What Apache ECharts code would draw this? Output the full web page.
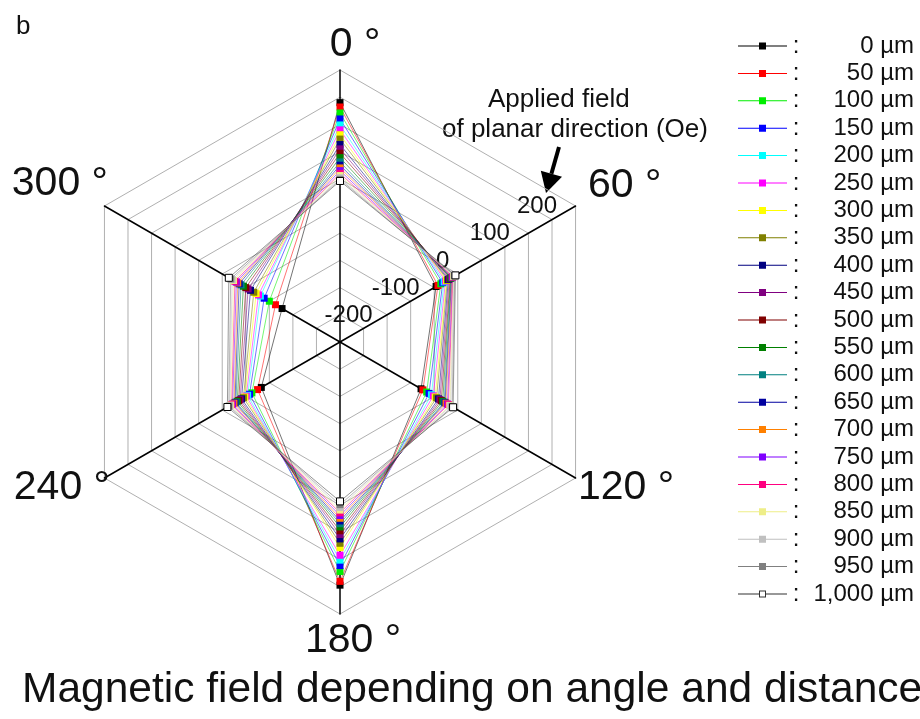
<!DOCTYPE html>
<html><head><meta charset="utf-8">
<script src="https://cdn.jsdelivr.net/npm/echarts@6/dist/echarts.min.js"></script>
<style>html,body{margin:0;padding:0;background:#fff}#c{width:920px;height:719px}</style>
</head><body><div id="c"></div>
<script>
// ---- data ----
const distances = ['0 µm','50 µm','100 µm','150 µm','200 µm','250 µm','300 µm','350 µm','400 µm','450 µm','500 µm',
  '550 µm','600 µm','650 µm','700 µm','750 µm','800 µm','850 µm','900 µm','950 µm','1,000 µm'];
const angleNames = ['0 °','60 °','120 °','180 °','240 °','300 °'];
const deg0   = [190, 182, 171, 160, 149, 140, 131, 123, 113, 105, 97, 89, 81, 75, 70, 65, 60, 56, 52, 49, 46];
const deg60  = [-46, -42, -36, -32, -29, -26, -24, -22, -20, -18, -16, -15, -14, -13, -12, -11, -10, -9, -8, -6.5, -5];
const deg120 = [-78, -74, -66, -61, -56, -52, -48, -45, -41, -38, -35, -32, -29, -27, -25, -22, -20, -17, -15, -12, -10];
const deg180 = [197, 190, 172, 161, 151, 142, 128, 120, 112, 104, 97, 90, 84, 79, 74, 69, 64, 59, 54, 49, 43];
const deg240 = [-83, -75, -63, -58, -54, -51, -48, -45, -41, -38, -35, -32, -29, -27, -25, -22, -20, -18, -16, -14, -11];
const deg300 = [-127, -113, -100, -89, -81, -77, -72, -67, -60, -55, -50, -45, -40, -36, -33, -30, -27, -24, -21, -18, -14];
const tickLabels = [-200, -100, 0, 100, 200];
const axisMin = -250, axisMax = 250;
const colors = ['#000000','#ff0000','#00ee00','#0000ff','#00ffff','#ff00ff','#ffff00','#808000','#000080','#800080',
  '#800000','#008000','#008080','#0000a0','#ff8000','#8000ff','#ff0080','#eeee88','#c0c0c0','#808080','#ffffff'];

// ---- build ----
const FONT = '"Liberation Sans", Arial, sans-serif';
const byAngle = {'0 °':deg0,'60 °':deg60,'120 °':deg120,'180 °':deg180,'240 °':deg240,'300 °':deg300};
// ECharts lays radar axes counter-clockwise starting at the top
const order = ['0 °','300 °','240 °','180 °','120 °','60 °'];
// where the angle names sit (text anchor, alignment)
const namePos = {
  '0 °':   {x: 355, y: 45,  align: 'center'},
  '60 °':  {x: 588, y: 186, align: 'left'},
  '120 °': {x: 578, y: 488, align: 'left'},
  '180 °': {x: 353, y: 641, align: 'center'},
  '240 °': {x: 110, y: 488, align: 'right'},
  '300 °': {x: 108, y: 184, align: 'right'}
};
const indicator = order.map(n => {
  const ind = {name: n, min: axisMin, max: axisMax};
  if (n === '60 °') {
    ind.axisLabel = {show: true, fontSize: 24, color: '#111', fontFamily: FONT, align: 'center',
      margin: 15, padding: [0, 15, 0, 0],
      formatter: v => tickLabels.indexOf(Math.round(v)) >= 0 ? String(Math.round(v)) : ''};
  }
  return ind;
});

const lineIcon = 'path://M0,3H49V4H0Z M21,0H28V7H21Z';
const hollowIcon = 'path://M0,3H21V4H0Z M28,3H49V4H28Z M21,0H28V7H21Z M22,1V6H27V1Z';

const series = distances.map((d, i) => {
  const last = i === distances.length - 1;
  return {
    type: 'radar', name: d, symbol: 'rect', symbolSize: 7,
    itemStyle: last ? {color: '#ffffff', borderColor: '#000', borderWidth: 1} : {color: colors[i]},
    lineStyle: {width: 1, opacity: 0.55, color: last ? '#444' : colors[i]},
    data: [{name: d, value: order.map(n => byAngle[n][i])}]
  };
});

const nameGraphics = angleNames.map(n => ({
  type: 'text', x: namePos[n].x, y: namePos[n].y, z: 50,
  style: {text: n, font: '41px ' + FONT, fill: '#111', align: namePos[n].align, verticalAlign: 'middle'}
}));

const chart = echarts.init(document.getElementById('c'), null, {renderer: 'canvas'});
chart.setOption({
  animation: false,
  backgroundColor: '#fff',
  title: [
    {text: 'b', left: 11, top: 9, textStyle: {fontSize: 26, fontWeight: 'normal', color: '#111', fontFamily: FONT}},
    {text: 'Magnetic field depending on angle and distance', left: 17, top: 664,
      textStyle: {fontSize: 42.5, fontWeight: 'normal', color: '#111', fontFamily: FONT}}
  ],
  legend: {
    orient: 'vertical', left: 733, top: 29, itemWidth: 49, itemHeight: 7, itemGap: 3.4,
    data: distances.map((d, i) => i === distances.length - 1
      ? {name: d, icon: hollowIcon, itemStyle: {color: '#333', borderWidth: 0}}
      : {name: d, icon: lineIcon}),
    formatter: n => '{a|:}{b|' + n + '}',
    textStyle: {fontFamily: FONT, color: '#111', lineHeight: 24,
      rich: {a: {width: 8, align: 'center', fontSize: 24, fontFamily: FONT},
             b: {width: 114, align: 'right', fontSize: 24, fontFamily: FONT}}}
  },
  radar: {
    center: [340, 342], radius: 272, startAngle: 90, shape: 'polygon', splitNumber: 10,
    indicator: indicator,
    axisName: {show: false},
    axisLine: {show: true, lineStyle: {color: '#000', width: 1.5}},
    splitLine: {show: true, lineStyle: {color: '#b0b0b0', width: 1}},
    splitArea: {show: false},
    axisTick: {show: false},
    axisLabel: {show: false}
  },
  graphic: nameGraphics.concat([
    {type: 'text', x: 488, y: 87, style: {text: 'Applied field', font: '26px ' + FONT, fill: '#111'}},
    {type: 'text', x: 442, y: 117, style: {text: 'of planar direction (Oe)', font: '26px ' + FONT, fill: '#111'}},
    {type: 'line', shape: {x1: 559, y1: 147, x2: 551.4, y2: 173.8}, style: {stroke: '#000', lineWidth: 4}},
    {type: 'polygon', shape: {points: [[546, 193], [562, 176.8], [540.8, 170.8]]}, style: {fill: '#000'}}
  ]),
  series: series
});
</script></body></html>
